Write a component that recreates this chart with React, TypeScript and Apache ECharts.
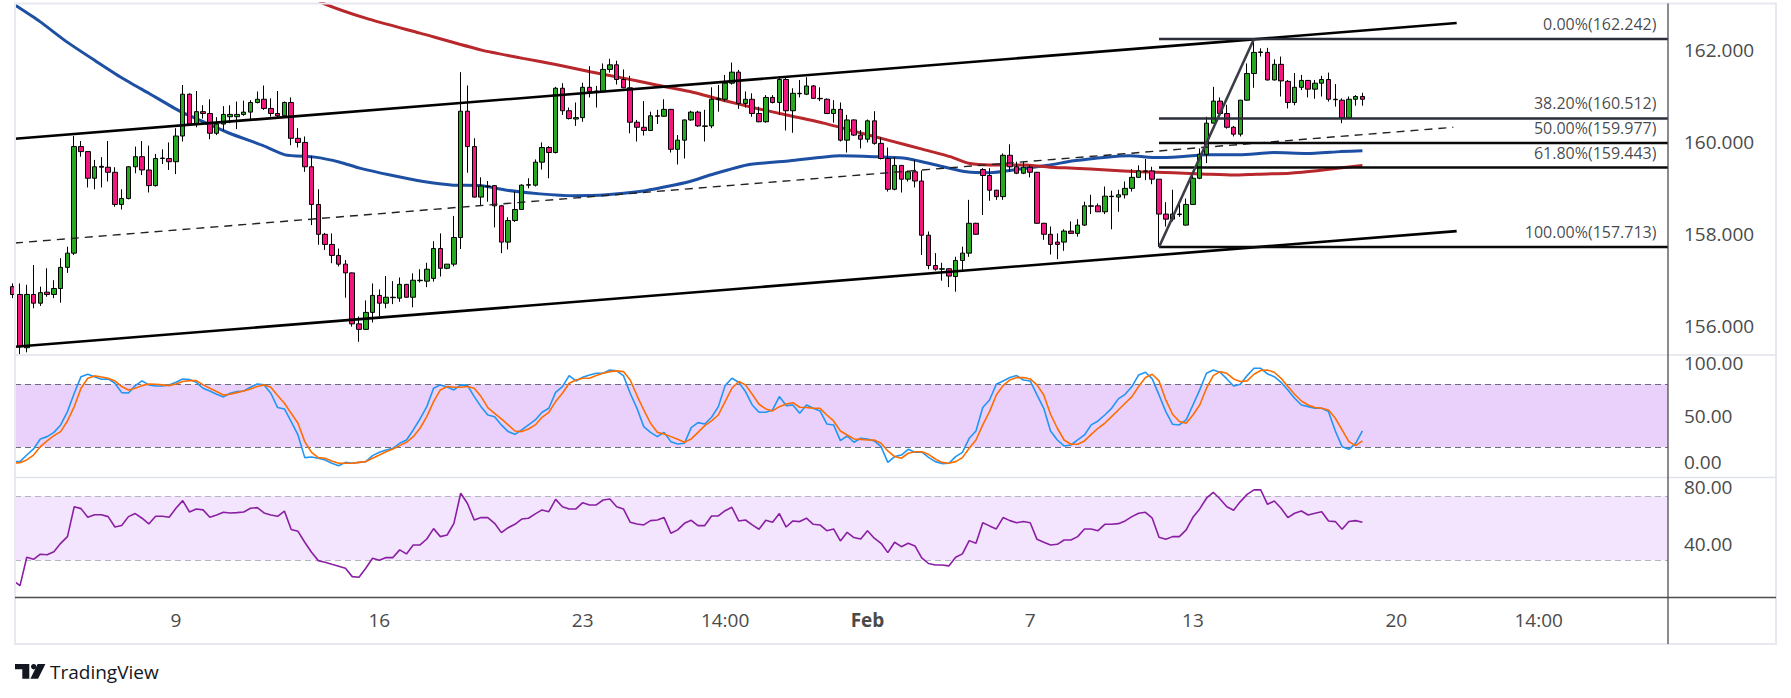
import React, { useEffect, useRef } from "react";
import * as echarts from "echarts";

// ---------- DATA ----------
// candle index of the first entry (partially visible at the left edge)
const FIRST_INDEX = -1;

// 4H candles, [open, high, low, close]
const candles: number[][] = [
  [156.85, 156.92, 156.60, 156.68], // -1
  [156.68, 156.92, 155.38, 155.54], // 0
  [155.52, 156.89, 155.42, 156.68],
  [156.68, 157.32, 156.38, 156.49],
  [156.49, 156.85, 156.43, 156.72],
  [156.73, 157.25, 156.63, 156.68],
  [156.68, 156.99, 156.60, 156.81],
  [156.81, 157.47, 156.50, 157.27],
  [157.27, 157.72, 157.15, 157.58],
  [157.58, 160.13, 157.54, 159.90],
  [159.90, 160.02, 159.68, 159.79],
  [159.79, 159.80, 159.01, 159.21], // 10
  [159.21, 159.61, 158.97, 159.46],
  [159.47, 159.67, 159.01, 159.45],
  [159.45, 160.02, 159.14, 159.34],
  [159.34, 159.45, 158.59, 158.64],
  [158.64, 158.97, 158.53, 158.77],
  [158.77, 159.47, 158.75, 159.46],
  [159.46, 159.90, 159.32, 159.68],
  [159.68, 160.02, 159.28, 159.39],
  [159.39, 159.92, 158.90, 159.05],
  [159.05, 159.74, 159.03, 159.64], // 20
  [159.64, 159.84, 159.52, 159.65],
  [159.64, 159.99, 159.39, 159.57],
  [159.57, 160.30, 159.30, 160.13],
  [160.13, 161.24, 160.01, 161.04],
  [161.04, 161.06, 160.37, 160.39],
  [160.39, 161.11, 160.32, 160.66],
  [160.66, 160.80, 160.51, 160.62],
  [160.62, 160.93, 160.06, 160.19],
  [160.19, 160.54, 160.15, 160.39],
  [160.39, 160.78, 160.25, 160.60], // 30
  [160.55, 160.80, 160.41, 160.60],
  [160.55, 160.88, 160.28, 160.60],
  [160.60, 160.90, 160.57, 160.65],
  [160.65, 160.91, 160.49, 160.86],
  [160.86, 161.10, 160.84, 160.93],
  [160.93, 161.23, 160.70, 160.73],
  [160.73, 160.95, 160.55, 160.62],
  [160.62, 161.11, 160.54, 160.57],
  [160.57, 160.88, 160.55, 160.86],
  [160.86, 160.97, 159.93, 160.08], // 40
  [160.08, 160.30, 159.88, 159.99],
  [159.99, 160.12, 159.35, 159.46],
  [159.46, 159.70, 158.19, 158.64],
  [158.64, 158.97, 157.76, 157.99],
  [157.99, 158.02, 157.65, 157.77],
  [157.77, 158.01, 157.36, 157.53],
  [157.53, 157.68, 157.29, 157.34],
  [157.34, 157.43, 156.61, 157.15],
  [157.15, 157.16, 155.98, 156.04],
  [156.04, 156.20, 155.65, 155.92], // 50
  [155.92, 156.55, 155.91, 156.29],
  [156.29, 156.92, 156.07, 156.66],
  [156.66, 156.79, 156.20, 156.49],
  [156.49, 157.08, 156.38, 156.62],
  [156.61, 156.97, 156.47, 156.62],
  [156.60, 157.05, 156.52, 156.90],
  [156.90, 156.91, 156.61, 156.62],
  [156.62, 157.14, 156.40, 156.99],
  [156.98, 157.23, 156.94, 156.99],
  [156.97, 157.37, 156.84, 157.23], // 60
  [157.03, 157.84, 156.96, 157.68],
  [157.68, 158.01, 157.07, 157.25],
  [157.25, 157.34, 157.23, 157.34],
  [157.34, 158.39, 157.29, 157.92],
  [157.92, 161.52, 157.67, 160.67],
  [160.67, 161.23, 159.33, 159.90],
  [159.90, 160.08, 158.79, 158.80],
  [158.80, 159.23, 158.61, 159.04],
  [159.04, 159.15, 158.70, 159.03],
  [159.05, 159.06, 158.14, 158.61], // 70
  [158.61, 158.63, 157.58, 157.82],
  [157.82, 158.36, 157.66, 158.29],
  [158.29, 158.92, 158.26, 158.53],
  [158.53, 159.08, 158.52, 159.06],
  [159.06, 159.21, 158.99, 159.07],
  [159.06, 159.62, 159.03, 159.56],
  [159.56, 159.99, 159.40, 159.88],
  [159.88, 159.91, 159.21, 159.77],
  [159.77, 161.20, 159.75, 161.17],
  [161.17, 161.28, 160.59, 160.68], // 80
  [160.68, 160.75, 160.49, 160.51],
  [160.50, 160.86, 160.35, 160.53],
  [160.53, 161.29, 160.44, 161.19],
  [161.19, 161.65, 160.97, 161.10],
  [161.10, 161.22, 160.75, 161.11],
  [161.10, 161.71, 161.08, 161.58],
  [161.58, 161.81, 161.51, 161.68],
  [161.68, 161.77, 161.25, 161.36],
  [161.36, 161.58, 161.17, 161.18],
  [161.18, 161.44, 160.19, 160.43], // 90
  [160.43, 160.48, 160.01, 160.32],
  [160.32, 160.89, 160.14, 160.25],
  [160.25, 160.66, 160.24, 160.57],
  [160.57, 160.70, 160.39, 160.56],
  [160.56, 160.93, 160.55, 160.71],
  [160.71, 160.72, 159.77, 159.84],
  [159.84, 160.15, 159.51, 160.04],
  [160.04, 160.49, 159.64, 160.48],
  [160.48, 160.68, 160.46, 160.65],
  [160.65, 160.68, 160.33, 160.35], // 100
  [160.35, 160.70, 160.01, 160.34],
  [160.35, 161.19, 160.30, 160.93],
  [160.93, 161.24, 160.66, 160.94],
  [160.93, 161.46, 160.88, 161.28],
  [161.28, 161.73, 161.25, 161.52],
  [161.52, 161.57, 160.72, 160.84],
  [160.84, 161.10, 160.75, 160.93],
  [160.93, 161.06, 160.55, 160.62],
  [160.62, 160.77, 160.43, 160.44],
  [160.44, 161.02, 160.42, 160.97], // 110
  [160.97, 161.02, 160.84, 160.86],
  [160.86, 161.39, 160.59, 161.36],
  [161.36, 161.42, 160.25, 160.68],
  [160.68, 161.17, 160.20, 161.06],
  [161.06, 161.35, 160.97, 161.05],
  [161.04, 161.41, 161.02, 161.22],
  [161.22, 161.24, 160.94, 160.95],
  [160.95, 161.19, 160.89, 160.94],
  [160.93, 160.95, 160.61, 160.62],
  [160.62, 160.91, 160.42, 160.71], // 120
  [160.71, 160.86, 160.01, 160.04],
  [160.04, 160.59, 159.77, 160.48],
  [160.48, 160.49, 160.13, 160.15],
  [160.15, 160.26, 159.86, 160.06],
  [160.06, 160.49, 159.99, 160.46],
  [160.46, 160.67, 159.94, 159.97],
  [159.97, 160.10, 159.62, 159.64],
  [159.64, 159.88, 158.92, 158.97],
  [158.97, 159.67, 158.95, 159.49],
  [159.49, 159.50, 158.90, 159.19], // 130
  [159.19, 159.38, 159.14, 159.35],
  [159.35, 159.61, 159.01, 159.15],
  [159.15, 159.38, 157.54, 157.97],
  [157.97, 158.05, 157.23, 157.31],
  [157.31, 157.58, 157.20, 157.23],
  [157.23, 157.37, 156.98, 157.24],
  [157.24, 157.25, 156.84, 157.08],
  [157.07, 157.50, 156.74, 157.42],
  [157.42, 157.72, 157.21, 157.58],
  [157.58, 158.74, 157.50, 158.23], // 140
  [158.23, 158.24, 157.98, 157.99],
  [159.40, 159.43, 158.41, 159.27],
  [159.27, 159.43, 158.72, 158.95],
  [158.95, 158.96, 158.74, 158.81],
  [158.81, 159.75, 158.74, 159.71],
  [159.71, 159.95, 159.35, 159.46],
  [159.46, 159.57, 159.30, 159.32],
  [159.32, 159.57, 159.30, 159.45],
  [159.45, 159.50, 159.23, 159.34],
  [159.34, 159.35, 158.22, 158.23], // 150
  [158.23, 158.24, 157.87, 157.99],
  [157.99, 158.16, 157.55, 157.77],
  [157.82, 158.01, 157.45, 157.77],
  [157.82, 158.10, 157.63, 158.06],
  [158.06, 158.27, 158.00, 158.01],
  [158.01, 158.32, 157.94, 158.19],
  [158.19, 158.70, 158.17, 158.61],
  [158.61, 158.85, 158.43, 158.60],
  [158.61, 158.66, 158.48, 158.48],
  [158.48, 159.03, 158.43, 158.82], // 160
  [158.81, 158.94, 158.10, 158.82],
  [158.80, 158.96, 158.48, 158.85],
  [158.85, 159.14, 158.77, 158.99],
  [158.99, 159.41, 158.92, 159.23],
  [159.23, 159.49, 159.22, 159.37],
  [159.37, 159.63, 159.17, 159.36],
  [159.37, 159.46, 159.08, 159.19],
  [159.19, 159.19, 157.713, 158.43],
  [158.43, 158.69, 158.16, 158.32],
  [158.32, 158.96, 158.27, 158.43], // 170
  [158.43, 158.70, 158.37, 158.42],
  [158.19, 158.77, 158.18, 158.64],
  [158.64, 159.26, 158.63, 159.21],
  [159.21, 159.86, 159.19, 159.73],
  [159.73, 160.55, 159.54, 160.41],
  [160.41, 161.20, 160.41, 160.89],
  [160.89, 160.97, 160.60, 160.62],
  [160.62, 160.81, 160.29, 160.32],
  [160.32, 160.35, 160.12, 160.17],
  [160.17, 160.91, 160.12, 160.91], // 180
  [160.91, 161.71, 160.90, 161.49],
  [161.49, 162.242, 161.18, 161.95],
  [161.95, 162.04, 161.86, 161.96],
  [161.95, 162.05, 161.34, 161.35],
  [161.35, 161.80, 161.34, 161.69],
  [161.69, 161.86, 160.99, 161.33],
  [161.32, 161.35, 160.73, 160.86],
  [160.86, 161.50, 160.80, 161.19],
  [161.19, 161.46, 161.13, 161.34],
  [161.34, 161.35, 160.97, 161.15], // 190
  [161.15, 161.35, 160.94, 161.28],
  [161.28, 161.44, 160.99, 161.36],
  [161.36, 161.51, 160.88, 160.93],
  [160.93, 161.26, 160.77, 160.92],
  [160.91, 160.95, 160.41, 160.53],
  [160.53, 160.99, 160.53, 160.93],
  [160.93, 161.02, 160.79, 160.99],
  [160.99, 161.07, 160.79, 160.93], // 198
];

// moving averages: [candle index, price]
const ma100Points: number[][] = [
  [-0.74, 162.98], [2.95, 162.62], [6.9, 162.18], [11.2, 161.76], [15, 161.4], [19, 161.06],
  [23.7, 160.66], [27.1, 160.44], [30.9, 160.19], [35.7, 159.93], [39.1, 159.72], [43.5, 159.67],
  [47.2, 159.56], [50.1, 159.43], [54.6, 159.28], [59.5, 159.14], [63.9, 159.06], [67.8, 159.05],
  [71.8, 158.95], [76.7, 158.87], [81.6, 158.83], [86.5, 158.85], [91.4, 158.92], [95.4, 159.03],
  [98.8, 159.14], [101.8, 159.28], [107.2, 159.5], [113.6, 159.59], [120.9, 159.7], [125.9, 159.68],
  [130.8, 159.64], [136.2, 159.46], [139.6, 159.35], [143.1, 159.33], [147, 159.4], [151.9, 159.5],
  [155.4, 159.59], [160.3, 159.67], [163.7, 159.7], [167.7, 159.66], [171.1, 159.68], [175, 159.72],
  [179.9, 159.72], [184.9, 159.77], [189.8, 159.75], [194.7, 159.79], [198, 159.81],
];
const ma200Points: number[][] = [
  [43.5, 163.15], [44.7, 163.02], [51.1, 162.69], [59, 162.37], [68.1, 162.0], [74.2, 161.82],
  [79.2, 161.68], [84.1, 161.53], [89, 161.39], [93.9, 161.24], [98.8, 161.1], [103.7, 160.91],
  [108.7, 160.73], [113.6, 160.57], [118.5, 160.41], [123.4, 160.22], [128.3, 160.03], [133.2, 159.84],
  [137.2, 159.68], [140.1, 159.53], [143.1, 159.5], [148, 159.5], [151.9, 159.45], [155.4, 159.43],
  [160.3, 159.39], [165.2, 159.35], [170.1, 159.33], [175, 159.3], [179, 159.28], [182.4, 159.3],
  [187.3, 159.32], [192.2, 159.39], [198, 159.49],
];

// stochastic %K / %D and RSI, one value per candle from FIRST_INDEX
const stochK: number[] = [
  6.0, 6.0, 12.3, 18.1, 27.7, 29.9, 34.0, 41.1, 53.8, 71.4, 87.3, 89.6, 87.3, 84.8, 85.1, 81.0, 72.0, 71.7,
  78.7, 83.2, 79.4, 78.4, 78.4, 79.4, 81.9, 85.1, 84.5, 81.9, 76.2, 73.6, 70.4, 67.9, 71.4, 73.0, 73.6, 77.1,
  80.3, 79.4, 71.4, 57.7, 56.4, 44.3, 31.5, 9.8, 10.4, 9.2, 7.6, 4.4, 2.1, 5.3, 4.4, 5.3, 6.0, 11.7, 14.9,
  17.1, 18.7, 23.5, 26.7, 36.3, 46.8, 58.6, 76.2, 79.4, 77.4, 74.6, 79.4, 79.0,
  68.2, 58.6, 50.6, 49.0, 41.1, 34.7, 32.1, 36.3, 41.1, 45.9, 53.2, 57.0, 72.3, 77.8, 88.3, 83.2, 86.7, 88.9,
  90.5, 90.5, 93.7, 92.8, 88.3, 71.4, 57.0, 39.5, 34.0, 29.9, 34.0, 25.1, 22.9, 23.5, 38.5, 43.3, 42.0, 48.4,
  58.6, 78.7, 85.7, 81.9, 73.0, 60.2, 53.2, 53.2, 55.4, 68.2, 59.6, 60.2, 52.2, 60.2, 57.0, 54.5, 42.0, 41.1,
  26.1, 30.5, 24.5, 28.3, 27.7, 25.8, 20.3, 5.3, 10.8, 12.3, 17.8, 14.9, 15.2, 10.0,
  6.0, 4.1, 4.4, 10.8, 14.9, 28.3, 35.3, 57.7, 65.0, 80.0, 83.2, 86.4, 88.3, 84.1, 83.2, 69.8, 57.0, 35.3,
  26.7, 21.0, 21.9, 26.7, 31.5, 41.1, 44.9, 50.6, 57.0, 66.0, 70.4, 77.8, 88.9, 91.5, 85.1, 69.8, 53.8, 41.7,
  41.1, 45.9, 60.2, 74.6, 90.5, 93.7, 91.5, 85.1, 78.4, 80.0, 88.3, 95.3, 95.3, 89.9, 87.3, 81.9, 74.6, 66.6,
  60.2, 58.6, 57.0, 57.0, 53.8, 35.3, 20.3, 17.8, 23.5, 35.3,
];
const stochD: number[] = [
  4.4, 5.0, 7.6, 12.3, 20.3, 25.8, 30.9, 34.7, 44.9, 58.6, 76.2, 85.7, 88.0, 87.0, 85.7, 83.2, 77.8, 74.6,
  76.2, 78.7, 80.3, 80.0, 79.4, 78.7, 80.3, 82.6, 83.5, 83.5, 79.4, 76.2, 73.0, 69.8, 70.4, 72.0, 73.6, 75.5,
  77.8, 79.4, 77.1, 69.2, 61.8, 52.2, 42.7, 25.1, 14.9, 9.8, 9.2, 6.6, 4.4, 4.4, 4.4, 5.3, 6.0, 9.2, 12.3,
  15.5, 18.1, 21.3, 24.5, 29.9, 37.9, 49.0, 63.4, 74.6, 77.8, 77.1, 77.1, 77.8,
  76.2, 68.2, 57.7, 52.2, 46.8, 41.1, 35.3, 34.7, 37.2, 41.1, 48.4, 53.2, 63.4, 71.4, 81.0, 84.1, 85.7, 85.7,
  88.3, 90.5, 92.1, 92.8, 92.1, 84.1, 69.2, 55.4, 42.7, 34.0, 32.5, 29.9, 27.3, 24.5, 27.7, 34.0, 40.4, 44.9,
  50.6, 63.4, 76.2, 82.6, 79.4, 70.4, 60.9, 56.4, 54.5, 58.6, 61.2, 62.4, 58.0, 57.7, 57.0, 57.0, 50.6, 44.9,
  35.3, 31.5, 27.7, 27.3, 26.7, 26.7, 23.5, 16.2, 10.8, 9.2, 14.0, 15.5, 15.5, 13.0,
  8.5, 5.3, 4.4, 6.0, 9.8, 18.7, 26.7, 41.1, 53.8, 69.8, 78.7, 84.1, 86.4, 86.4, 85.1, 79.4, 69.8, 51.3,
  37.9, 26.7, 22.6, 22.6, 25.8, 32.1, 37.9, 42.7, 49.0, 55.4, 61.8, 68.2, 77.8, 86.4, 89.6, 83.2, 65.0, 51.3,
  44.3, 42.7, 50.6, 60.2, 76.2, 88.3, 92.1, 90.5, 85.1, 82.6, 83.2, 89.6, 93.1, 93.7, 91.5, 85.7, 77.8, 70.4,
  64.0, 60.2, 57.7, 57.0, 55.4, 47.5, 36.3, 25.1, 21.3, 25.8,
];
const rsi: number[] = [
  17.3, 14.2, 31.9, 30.6, 33.8, 33.5, 35.4, 40.6, 44.8, 63.5, 62.3, 56.9, 58.5, 58.5, 57.3, 50.8, 51.7, 57.3,
  59.2, 56.3, 52.7, 57.5, 57.5, 56.9, 62.5, 67.3, 60.2, 62.1, 61.5, 56.9, 58.3, 60.0, 59.6, 59.8, 60.2, 62.5,
  62.9, 59.6, 58.3, 57.5, 60.8, 49.2, 48.1, 41.3, 35.0, 29.8, 28.8, 27.5, 26.3, 25.0, 19.8, 19.4, 25.0, 31.3,
  30.0, 31.7, 31.7, 36.5, 34.0, 39.6, 39.6, 43.3, 49.8, 44.8, 45.8, 53.1, 71.9, 65.5,
  55.2, 56.7, 56.7, 53.1, 47.3, 50.4, 52.5, 55.8, 56.3, 59.0, 61.5, 60.4, 68.1, 63.5, 62.1, 62.1, 66.0, 64.6,
  64.6, 67.7, 68.3, 63.5, 62.1, 53.8, 52.7, 52.1, 54.8, 55.2, 56.7, 46.9, 49.0, 53.1, 55.0, 51.7, 51.7, 57.7,
  57.7, 61.0, 63.1, 54.6, 55.2, 52.1, 49.4, 55.0, 53.8, 59.2, 50.8, 54.6, 54.2, 56.3, 52.5, 52.1, 48.5, 49.6,
  42.1, 47.5, 44.2, 43.3, 48.5, 43.8, 40.6, 34.8, 41.3, 38.5, 40.6, 39.0, 31.5, 28.0,
  27.1, 27.1, 26.5, 31.9, 34.0, 42.3, 40.6, 53.5, 51.5, 49.6, 56.7, 54.8, 53.5, 54.2, 53.5, 43.1, 41.3, 39.6,
  40.0, 42.7, 42.7, 44.8, 49.6, 49.6, 48.5, 52.5, 52.5, 52.9, 54.6, 57.3, 59.4, 60.0, 56.3, 44.4, 43.1, 44.8,
  44.8, 49.0, 56.9, 62.1, 68.8, 72.5, 68.3, 63.5, 61.3, 66.7, 71.2, 74.0, 74.0, 65.0, 67.1, 62.5, 56.7, 59.4,
  60.8, 58.3, 59.4, 60.4, 54.6, 54.2, 49.4, 54.2, 54.8, 53.8,
];

// drawings: parallel channel [index, price]
const channelUpper: number[][] = [[-0.74, 160.07], [211.9, 162.59]];
const channelLower: number[][] = [[-0.74, 155.54], [211.9, 158.06]];
const channelMid: number[][] = [[-0.74, 157.8], [211.4, 160.32]];

// fibonacci retracement
const fibSwing: number[][] = [[168, 157.713], [182, 162.242]];
const fibRatios = ["0.00%", "38.20%", "50.00%", "61.80%", "100.00%"];
const fibLevels = [162.242, 160.512, 159.977, 159.443, 157.713];

// axes
const priceTicks = [156, 158, 160, 162];
const stochTicks = [0, 50, 100];
const rsiTicks = [40, 80];
const timeTickIdx = [23, 53, 83, 104, 125, 149, 173, 203, 224];
const timeTickLabels = ["9", "16", "23", "14:00", "Feb", "7", "13", "20", "14:00"];

// ---------- CHART ----------
const FONT = "'Open Sans', 'Noto Sans', sans-serif";
const X_MIN = -0.737;
const X_MAX = 243.07;
const FIB_LABEL_X = 241.44;
const AXIS_TEXT = "#4a4a4a";

function buildOption(): any {
  const candleData = candles.map((c, k) => [k + FIRST_INDEX, c[0], c[3], c[2], c[1]]);
  const toPairs = (arr: number[]) => arr.map((v, k) => [k + FIRST_INDEX, v]);

  const xBase = {
    type: "value",
    min: X_MIN,
    max: X_MAX,
    axisLine: { show: false },
    axisTick: { show: false },
    splitLine: { show: false },
    axisLabel: { show: false },
  };
  const tickText = { fontSize: 19, fontFamily: FONT, color: AXIS_TEXT };
  const yLabel = (ticks: number[], digits: number, tag?: (v: number) => string | null) => ({
    customValues: ticks,
    formatter: (v: number) => {
      const s = v.toFixed(digits);
      const t = tag ? tag(v) : null;
      return t ? `{${t}|${s}}` : s;
    },
    ...tickText,
    margin: 16,
    rich: {
      up: { ...tickText, padding: [0, 0, 12, 0] },
      down: { ...tickText, padding: [14, 0, 0, 0] },
    },
  });
  const yBase = {
    type: "value",
    position: "right",
    splitLine: { show: false },
    axisLine: { show: false },
    axisTick: { show: false },
  };

  const series: any[] = [];
  const line = (data: number[][], color: string, width: number, extra: any = {}) => ({
    type: "line",
    xAxisIndex: 0,
    yAxisIndex: 0,
    data,
    symbol: "none",
    silent: true,
    lineStyle: { color, width },
    z: 4,
    ...extra,
  });

  series.push(line(ma100Points, "#1d4fa2", 3, { smooth: 0.2, z: 2 }));
  series.push(line(ma200Points, "#b8272b", 3, { smooth: 0.2, z: 2 }));
  series.push({
    type: "candlestick",
    xAxisIndex: 0,
    yAxisIndex: 0,
    data: candleData,
    barWidth: 5,
    silent: true,
    z: 3,
    itemStyle: {
      color: "#27a821",
      color0: "#f5157e",
      borderColor: "#000",
      borderColor0: "#000",
      borderColorDoji: "#000",
      borderWidth: 1,
    },
  });
  series.push(line(channelUpper, "#000", 2.6));
  series.push(line(channelLower, "#000", 2.6));
  series.push(line(channelMid, "#222", 1.4, { lineStyle: { color: "#222", width: 1.4, type: [8, 6] } }));
  fibLevels.forEach((lvl, k) => {
    series.push(
      line(
        [
          [fibSwing[0][0], lvl],
          [X_MAX, lvl],
        ],
        k < 2 ? "#2b2e38" : "#0a0a0a",
        2.6
      )
    );
  });
  series.push(line(fibSwing, "#3a3d46", 2.6));
  series.push({
    type: "scatter",
    xAxisIndex: 0,
    yAxisIndex: 0,
    silent: true,
    symbolSize: 1,
    itemStyle: { color: "rgba(0,0,0,0)" },
    data: fibLevels.map((lvl) => [FIB_LABEL_X, lvl]),
    label: {
      show: true,
      position: "left",
      distance: 0,
      offset: [0, -15],
      fontSize: 16,
      fontFamily: FONT,
      color: "#131722",
      formatter: (p: any) => `${fibRatios[p.dataIndex]}(${fibLevels[p.dataIndex].toFixed(3)})`,
    },
    z: 5,
  });

  // stochastic pane
  series.push({
    type: "line",
    xAxisIndex: 1,
    yAxisIndex: 1,
    data: toPairs(stochK),
    symbol: "none",
    silent: true,
    lineStyle: { color: "#2196f3", width: 1.6 },
    z: 3,
    markArea: {
      silent: true,
      itemStyle: { color: "#e9d1fc" },
      data: [[{ yAxis: 20 }, { yAxis: 80 }]],
    },
    markLine: {
      silent: true,
      symbol: ["none", "none"],
      label: { show: false },
      lineStyle: { color: "#6a6d78", width: 1, type: [6, 4] },
      data: [{ yAxis: 80 }, { yAxis: 20 }],
      z: 2,
    },
  });
  series.push({
    type: "line",
    xAxisIndex: 1,
    yAxisIndex: 1,
    data: toPairs(stochD),
    symbol: "none",
    silent: true,
    lineStyle: { color: "#ff6d00", width: 1.6 },
    z: 3,
  });

  // RSI pane
  series.push({
    type: "line",
    xAxisIndex: 2,
    yAxisIndex: 2,
    data: toPairs(rsi),
    symbol: "none",
    silent: true,
    lineStyle: { color: "#8a1fa3", width: 1.6 },
    z: 3,
    markArea: {
      silent: true,
      itemStyle: { color: "#f3e5fd" },
      data: [[{ yAxis: 30 }, { yAxis: 70 }]],
    },
    markLine: {
      silent: true,
      symbol: ["none", "none"],
      label: { show: false },
      lineStyle: { color: "#b4b6bf", width: 1, type: [6, 4] },
      data: [{ yAxis: 70 }, { yAxis: 30 }],
      z: 2,
    },
  });

  const frameStroke = "#e8e8f0";
  const graphic: any[] = [
    {
      type: "rect",
      silent: true,
      z: 100,
      shape: { x: 15, y: 3.5, width: 1761, height: 640.5 },
      style: { fill: "none", stroke: frameStroke, lineWidth: 2 },
    },
    {
      type: "line",
      silent: true,
      z: 100,
      shape: { x1: 15, y1: 355, x2: 1776, y2: 355 },
      style: { stroke: "#e0e3eb", lineWidth: 1.5 },
    },
    {
      type: "line",
      silent: true,
      z: 100,
      shape: { x1: 15, y1: 477.5, x2: 1776, y2: 477.5 },
      style: { stroke: "#e0e3eb", lineWidth: 1.5 },
    },
    {
      type: "line",
      silent: true,
      z: 100,
      shape: { x1: 15, y1: 597.5, x2: 1776, y2: 597.5 },
      style: { stroke: "#4e4e52", lineWidth: 1.3 },
    },
    {
      type: "line",
      silent: true,
      z: 100,
      shape: { x1: 1668, y1: 3.5, x2: 1668, y2: 644 },
      style: { stroke: "#4e4e52", lineWidth: 1.3 },
    },
    // TradingView logo
    {
      type: "polygon",
      silent: true,
      shape: {
        points: [
          [15, 664],
          [29.3, 664],
          [29.3, 678.7],
          [22.3, 678.7],
          [22.3, 669.3],
          [15, 669.3],
        ],
      },
      style: { fill: "#131722" },
    },
    {
      type: "circle",
      silent: true,
      shape: { cx: 33.7, cy: 666.7, r: 2.7 },
      style: { fill: "#131722" },
    },
    {
      type: "polygon",
      silent: true,
      shape: {
        points: [
          [37.6, 664],
          [45.4, 664],
          [38.1, 678.7],
          [30.4, 678.7],
        ],
      },
      style: { fill: "#131722" },
    },
    {
      type: "text",
      silent: true,
      x: 50,
      y: 672,
      style: {
        text: "TradingView",
        fontSize: 19,
        fontFamily: FONT,
        fill: "#131722",
        verticalAlign: "middle",
      },
    },
  ];

  return {
    animation: false,
    backgroundColor: "#ffffff",
    textStyle: { fontFamily: FONT },
    grid: [
      { left: 15, top: 3.5, width: 1653, height: 351.5 },
      { left: 15, top: 355, width: 1653, height: 122.5 },
      { left: 15, top: 477.5, width: 1653, height: 120 },
    ],
    xAxis: [
      { ...xBase, gridIndex: 0 },
      { ...xBase, gridIndex: 1 },
      {
        ...xBase,
        gridIndex: 2,
        axisLabel: {
          show: true,
          customValues: timeTickIdx,
          formatter: (v: number) => {
            const k = timeTickIdx.indexOf(v);
            const t = k >= 0 ? timeTickLabels[k] : "";
            return t === "Feb" ? "{b|Feb}" : t;
          },
          ...tickText,
          margin: 13,
          rich: {
            b: { ...tickText, fontWeight: 700 },
          },
        },
      },
    ],
    yAxis: [
      { ...yBase, gridIndex: 0, min: 155.362, max: 163.015, axisLabel: yLabel(priceTicks, 3) },
      {
        ...yBase,
        gridIndex: 1,
        min: -9.2,
        max: 108,
        axisLabel: yLabel(stochTicks, 2, (v) => (v === 0 ? "up" : null)),
      },
      {
        ...yBase,
        gridIndex: 2,
        min: 6.75,
        max: 81.75,
        axisLabel: yLabel(rsiTicks, 2, (v) => (v === 80 ? "down" : null)),
      },
    ],
    series,
    graphic,
  };
}

export default function App() {
  const ref = useRef<HTMLDivElement>(null);
  useEffect(() => {
    if (!ref.current) return;
    const chart = echarts.init(ref.current, null, { renderer: "svg" });
    chart.setOption(buildOption());
    return () => chart.dispose();
  }, []);
  return (
    <div
      ref={ref}
      style={{ position: "absolute", left: 0, top: 0, width: 1791, height: 698, background: "#fff" }}
    />
  );
}
